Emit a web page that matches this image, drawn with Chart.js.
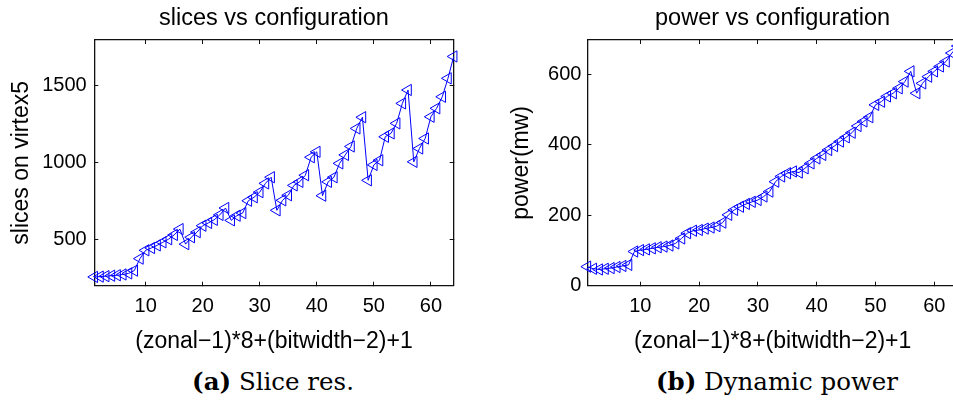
<!DOCTYPE html>
<html>
<head>
<meta charset="utf-8">
<script src="https://cdn.jsdelivr.net/npm/chart.js@4"></script>
<style>
  body { margin: 0; width: 953px; height: 400px; overflow: hidden; background: #fff; position: relative; }
  canvas { position: absolute; top: 0; }
  #slicesChart { left: 0; }
  #powerChart { left: 476px; }
  .cap { position: absolute; top: 367px; font-family: "DejaVu Serif", serif; font-size: 24.5px; line-height: normal;
         transform: translateX(-50%); white-space: nowrap; color: #000; }
</style>
</head>
<body>
<canvas id="slicesChart" width="476" height="360"></canvas>
<canvas id="powerChart" width="500" height="360"></canvas>
<div class="cap" style="left:273px"><b>(a)</b> Slice res.</div>
<div class="cap" style="left:777px"><b>(b)</b> Dynamic power</div>
<script>
// configuration index = (zonal-1)*8 + (bitwidth-2) + 1
const config = [1, 2, 3, 4, 5, 6, 7, 8, 9, 10, 11, 12, 13, 14, 15, 16,
  17, 18, 19, 20, 21, 22, 23, 24, 25, 26, 27, 28, 29, 30, 31, 32,
  33, 34, 35, 36, 37, 38, 39, 40, 41, 42, 43, 44, 45, 46, 47, 48,
  49, 50, 51, 52, 53, 54, 55, 56, 57, 58, 59, 60, 61, 62, 63, 64];

const slices = [257, 259, 262, 265, 268, 273, 280, 298,
  376, 430, 445, 462, 482, 502, 530, 568,
  470, 515, 548, 590, 608, 628, 660, 705,
  625, 655, 672, 752, 775, 808, 865, 905,
  690, 755, 788, 852, 875, 918, 1035, 1070,
  785, 875, 905, 995, 1050, 1105, 1222, 1295,
  885, 985, 1015, 1168, 1190, 1255, 1385, 1472,
  1005, 1092, 1157, 1298, 1353, 1428, 1548, 1690];

const power = [54, 48, 46, 48, 50, 53, 56, 59,
  97, 101, 103, 106, 109, 111, 114, 120,
  134, 149, 156, 158, 162, 165, 169, 179,
  201, 215, 224, 232, 238, 243, 253, 267,
  295, 310, 319, 324, 321, 333, 347, 361,
  371, 385, 396, 409, 421, 434, 453, 466,
  478, 513, 522, 537, 546, 560, 579, 608,
  546, 574, 593, 608, 622, 636, 660, 680];

const xTicks = [10, 20, 30, 40, 50, 60];
const sliceTicks = [500, 1000, 1500];
const powerTicks = [0, 200, 400, 600];

const FONT = "'Liberation Sans', Arial, sans-serif";
const BLUE = "#0000ff";
const AXIS = "#111";

const setTicks = list => scale => { scale.ticks = list.map(v => ({ value: v })); };
const fixW = w => s => { s.width = w; };
const fixH = h => s => { s.height = h; };
const plain = v => String(v);

function edgeAxis(pos, min, max, ticks, fit) {
  return {
    type: "linear", position: pos, min: min, max: max,
    afterBuildTicks: setTicks(ticks), afterFit: fit,
    grid: { drawOnChartArea: false, tickLength: -4, color: AXIS },
    border: { color: AXIS, width: 1.3 },
    ticks: { display: false }
  };
}

function makeChart(id, values, o) {
  new Chart(document.getElementById(id), {
    type: "line",
    data: {
      datasets: [{
        data: config.map((c, i) => ({ x: c, y: values[i] })),
        borderColor: BLUE, borderWidth: 1, tension: 0, fill: false, clip: false,
        pointStyle: "triangle", pointRotation: -90, pointRadius: 6.5,
        pointBorderColor: BLUE, pointBackgroundColor: "rgba(0,0,0,0)", pointBorderWidth: 1
      }]
    },
    options: {
      responsive: false, animation: false,
      layout: { padding: { left: 0, top: 0, right: o.padRight, bottom: 0 } },
      plugins: {
        legend: { display: false }, tooltip: { enabled: false },
        title: { display: true, text: o.title, fullSize: false, color: "#000",
                 font: { family: FONT, size: 23.5, weight: "normal" }, padding: { top: 4, bottom: 7.8 } }
      },
      scales: {
        x: {
          type: "linear", position: "bottom", min: 1, max: 64,
          afterBuildTicks: setTicks(xTicks), afterFit: fixH(74.3),
          grid: { drawOnChartArea: false, tickLength: -4, color: AXIS },
          border: { color: AXIS, width: 1.3 },
          ticks: { color: "#000", font: { family: FONT, size: 20 }, padding: 13, maxRotation: 0, callback: plain },
          title: { display: true, text: "(zonal\u22121)*8+(bitwidth\u22122)+1", color: "#000",
                   font: { family: FONT, size: 23 }, padding: { top: 0, bottom: 4.2 } }
        },
        x2: edgeAxis("top", 1, 64, xTicks, fixH(0)),
        y: {
          type: "linear", position: "left", min: o.min, max: o.max,
          afterBuildTicks: setTicks(o.ticks), afterFit: fixW(o.yWidth),
          grid: { drawOnChartArea: false, tickLength: -4, color: AXIS },
          border: { color: AXIS, width: 1.3 },
          ticks: { color: "#000", font: { family: FONT, size: 20 }, padding: o.tickPad, callback: plain },
          title: { display: true, text: o.yTitle, color: "#000",
                   font: { family: FONT, size: 23 }, padding: { top: o.titlePad, bottom: 0 } }
        },
        y2: edgeAxis("right", o.min, o.max, o.ticks, fixW(0))
      }
    }
  });
}

makeChart("slicesChart", slices, {
  title: "slices vs configuration", yTitle: "slices on virtex5",
  min: 200, max: 1797, ticks: sliceTicks,
  yWidth: 94.3, padRight: 22.3, tickPad: 11.6, titlePad: 8.2
});

makeChart("powerChart", power, {
  title: "power vs configuration", yTitle: "power(mw)",
  min: 0, max: 697, ticks: powerTicks,
  yWidth: 111.4, padRight: 18.2, tickPad: 10, titlePad: 32.2
});
</script>
</body>
</html>
